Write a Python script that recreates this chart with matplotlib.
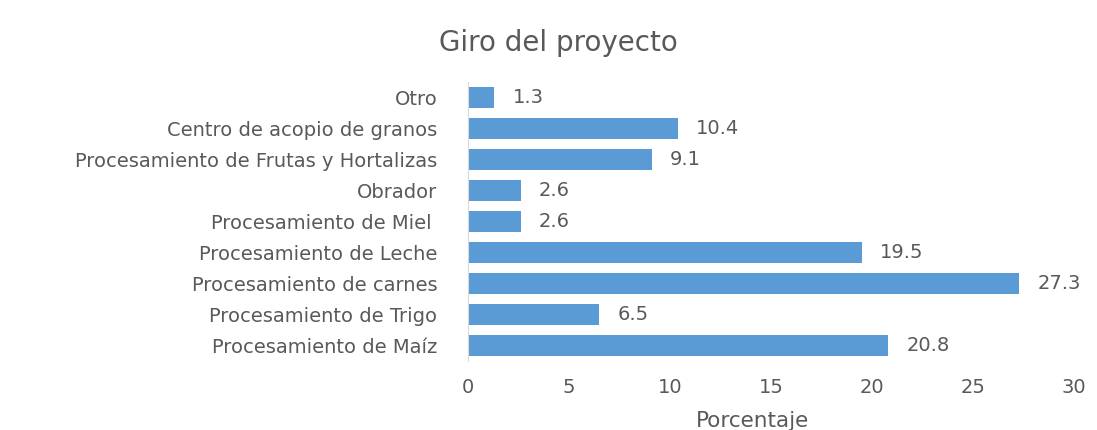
import matplotlib.pyplot as plt

categorias = ['Procesamiento de Maíz', 'Procesamiento de Trigo', 'Procesamiento de carnes',
              'Procesamiento de Leche', 'Procesamiento de Miel ', 'Obrador',
              'Procesamiento de Frutas y Hortalizas', 'Centro de acopio de granos', 'Otro']
porcentajes = [20.8, 6.5, 27.3, 19.5, 2.6, 2.6, 9.1, 10.4, 1.3]
ticks_x = [0, 5, 10, 15, 20, 25, 30]

gris = '#595959'
plt.rcParams['font.family'] = ['DejaVu Sans']

fig = plt.figure(figsize=(10.97, 4.30), dpi=100)
ax = fig.add_axes([468 / 1097, 1 - 361 / 430, (1074 - 468) / 1097, 279 / 430])

barras = ax.barh(categorias, porcentajes, height=0.7, color='#5B9BD5')
for b, v in zip(barras, porcentajes):
    ax.text(b.get_width() + 0.9, b.get_y() + b.get_height() / 2, f'{v:.1f}',
            va='center', ha='left', fontsize=14, color=gris)

ax.set_xlim(0, 30)
ax.set_ylim(-0.5, len(categorias) - 0.5)
ax.set_xticks(ticks_x)
ax.tick_params(axis='x', length=0, labelsize=14, labelcolor=gris, pad=12)
ax.tick_params(axis='y', length=0, labelsize=14, labelcolor=gris, pad=22)
for s in ['top', 'right', 'bottom']:
    ax.spines[s].set_visible(False)
ax.spines['left'].set_color('#D9D9D9')

fig.text(752 / 1097, 1 - 421 / 430, 'Porcentaje', ha='center', va='center', fontsize=15.5, color=gris)
fig.text(558 / 1097, 1 - 43 / 430, 'Giro del proyecto', ha='center', va='center', fontsize=20, color=gris)

fig.savefig('out.png', dpi=100)
